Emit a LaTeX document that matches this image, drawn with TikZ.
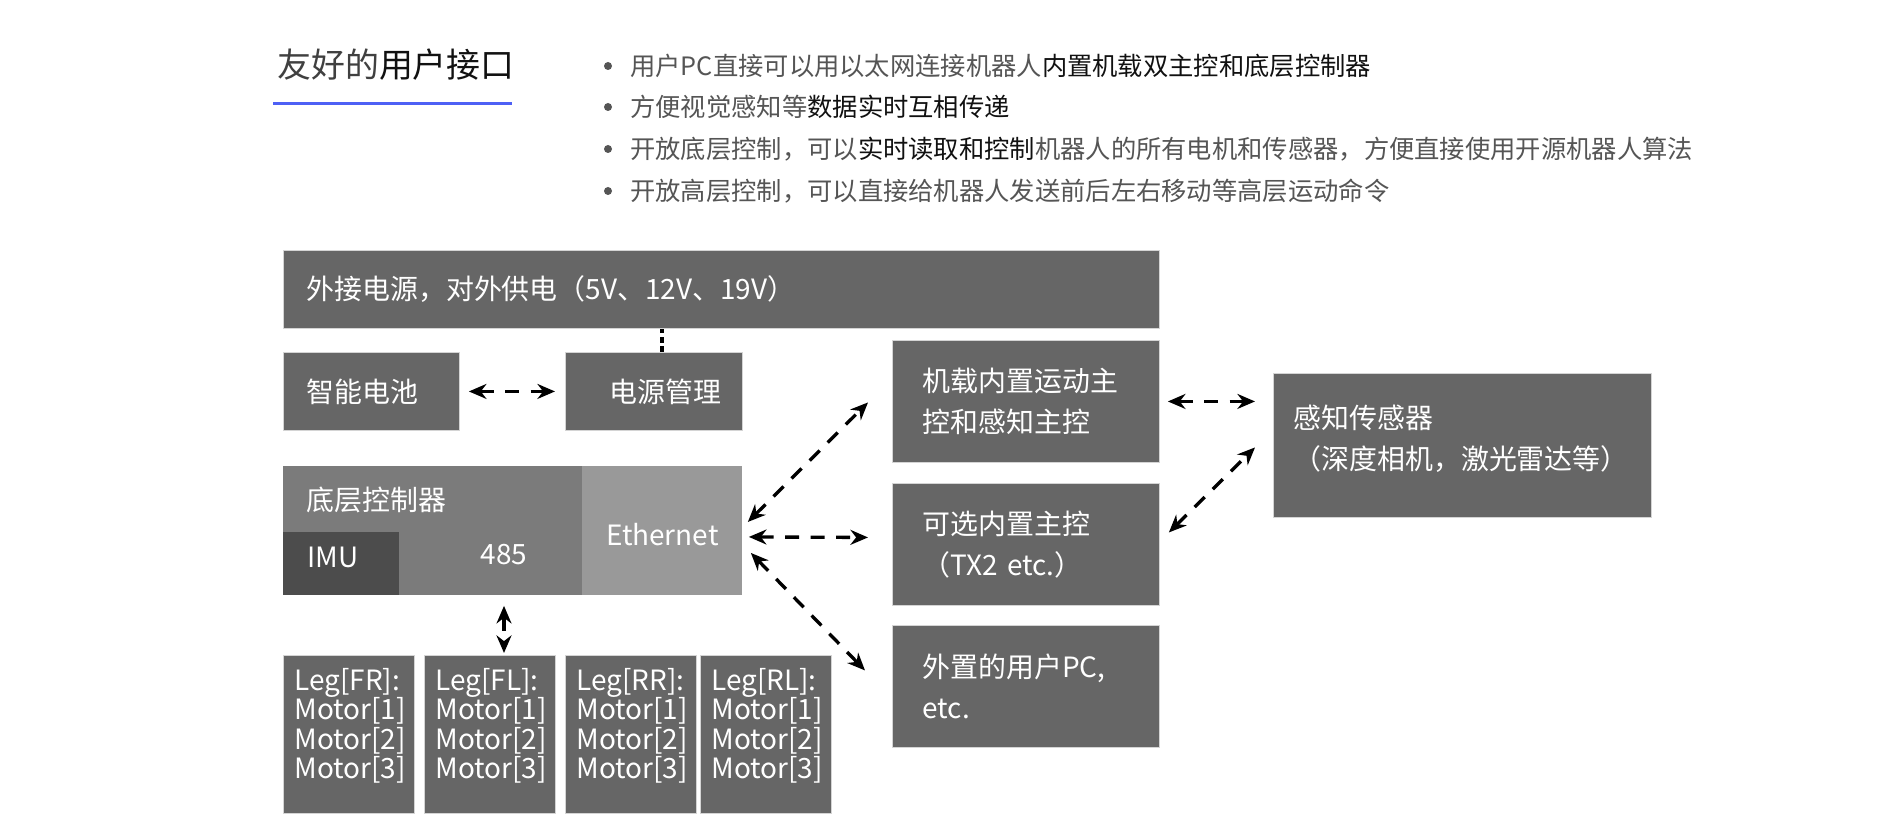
\documentclass[tikz,border=0pt]{standalone}
\usepackage{fontspec}
\setmainfont{Noto Sans CJK SC}
\usetikzlibrary{arrows.meta,calc}

\newlength\px
\setlength\px{0.02cm}

\definecolor{boxgray}{RGB}{102,102,102}
\definecolor{ctrlgray}{RGB}{123,123,123}
\definecolor{ethgray}{RGB}{153,153,153}
\definecolor{imugray}{RGB}{76,76,76}
\definecolor{edgegray}{RGB}{212,212,212}
\definecolor{softtext}{RGB}{85,85,85}
\definecolor{hardtext}{RGB}{17,17,17}
\definecolor{headgray}{RGB}{64,64,64}
\definecolor{underblue}{RGB}{78,96,245}

\newcommand\boxfont{\fontsize{15.9pt}{23.3pt}\selectfont}
\newcommand\legfont{\fontsize{15.9pt}{16.8pt}\selectfont}
\newcommand\listfont{\fontsize{14.4pt}{18pt}\selectfont}
\newcommand\headfont{\fontsize{19.3pt}{22pt}\selectfont}

\tikzset{
  box/.style={draw=edgegray,line width=0.5pt,fill=boxgray,text=white,
    anchor=north west,inner xsep=0pt,inner ysep=0pt,align=left,font=\boxfont},
  legbox/.style={box,font=\legfont,inner xsep=11\px,text width=109\px,
    text height=35\px,text depth=123\px},
  link/.style={line width=1.9pt,dash pattern=on 8pt off 6.5pt,
    {Stealth[length=10pt,width=8.5pt]}-{Stealth[length=10pt,width=8.5pt]}},
  feed/.style={line width=2pt,dash pattern=on 3.4pt off 2pt},
  listitem/.style={anchor=west,inner sep=0pt,text=softtext,font=\listfont},
}

\begin{document}
\begin{tikzpicture}[x=0.02cm,y=-0.02cm]
  \path[fill=white,use as bounding box] (0,0) rectangle (1880,834);

  % heading and list
  \node[anchor=west,inner sep=0pt,text=hardtext,font=\headfont] (heading) at (277,65)
    {\textcolor{headgray}{友好的}用户接口};
  \draw[underblue,line width=3\px] (273,104) -- (512,104);
  \foreach \y in {66,107,149,191}
    \fill[softtext] (608,\y) circle[radius=4\px];
  \node[listitem] (item1) at (630,66)
    {用户PC直接可以用以太网连接机器人\textcolor{hardtext}{内置机载双主控和底层控制器}};
  \node[listitem] (item2) at (630,107)
    {方便视觉感知等\textcolor{hardtext}{数据实时互相传递}};
  \node[listitem] (item3) at (630,149)
    {开放底层控制，可以\textcolor{hardtext}{实时读取和控制}机器人的所有电机和传感器，方便直接使用开源机器人算法};
  \node[listitem] (item4) at (630,191)
    {开放高层控制，可以直接给机器人发送前后左右移动等高层运动命令};

  % power
  \node[box,inner xsep=23\px,text width=830\px,minimum height=78\px] (power) at (283,250)
    {外接电源，对外供电（5V、12V、19V）};
  \node[box,inner xsep=23\px,text width=130\px,minimum height=78\px] (battery) at (283,352)
    {智能电池};
  \node[box,inner xsep=21\px,text width=135\px,minimum height=78\px,align=right] (pmu) at (565,352)
    {电源管理};

  % low level controller
  \node[box,fill=ctrlgray,draw=none,inner xsep=23\px,text width=413\px,
    text height=44\px,text depth=85\px] (ctrl) at (283,466) {底层控制器};
  \node[box,fill=ethgray,draw=none,text width=160\px,align=center,
    text height=79\px,text depth=50\px] (eth) at (582,466) {Ethernet};
  \node[box,fill=imugray,draw=none,inner xsep=24\px,text width=68\px,
    text height=35\px,text depth=28\px] (imu) at (283,532) {IMU};
  \node[text=white,font=\boxfont,inner sep=0pt] (rs485) at (504,555) {485};

  % legs
  \foreach \x/\leg in {283/FR,424/FL,565/RR,700/RL}
    \node[legbox] (leg\leg) at (\x,655) {Leg[\leg]:\\Motor[1]\\Motor[2]\\Motor[3]};

  % main controllers
  \node[box,inner xsep=30\px,text width=207\px,minimum height=122\px] (onboard) at (892,340)
    {机载内置运动主\\控和感知主控};
  \node[box,inner xsep=30\px,text width=207\px,minimum height=122\px] (option) at (892,483)
    {可选内置主控\\（TX2 etc.）};
  \node[box,inner xsep=30\px,text width=207\px,minimum height=122\px] (userpc) at (892,625)
    {外置的用户PC,\\etc.};
  \node[box,inner xsep=20\px,text width=338\px,text height=55\px,text depth=89\px] (sensor) at (1273,373)
    {感知传感器\\（深度相机，激光雷达等）};

  % links
  \draw[feed] ($(pmu.north)+(8,0)$) -- ($(pmu.north |- power.south)+(8,0)$);
  \draw[link,shorten <=9\px,shorten >=10\px] (battery.east) -- (pmu.west);
  \draw[link] ($(eth.east)+(5,-9)$) -- ($(onboard.west)+(-24,1)$);
  \draw[link] ($(eth.east)+(6,6)$) -- ($(option.west)+(-24,-7)$);
  \draw[link] ($(eth.east)+(8,22)$) -- ($(userpc.west)+(-27,-16)$);
  \draw[link,shorten <=8\px,shorten >=18\px] (onboard.east) -- (onboard.east -| sensor.west);
  \draw[link] ($(option.east)+(9,-12)$) -- ($(sensor.west)+(-18,2)$);
  \draw[link,shorten <=10\px,shorten >=2\px] (rs485 |- ctrl.south) -- (rs485 |- legFL.north);
\end{tikzpicture}
\end{document}
